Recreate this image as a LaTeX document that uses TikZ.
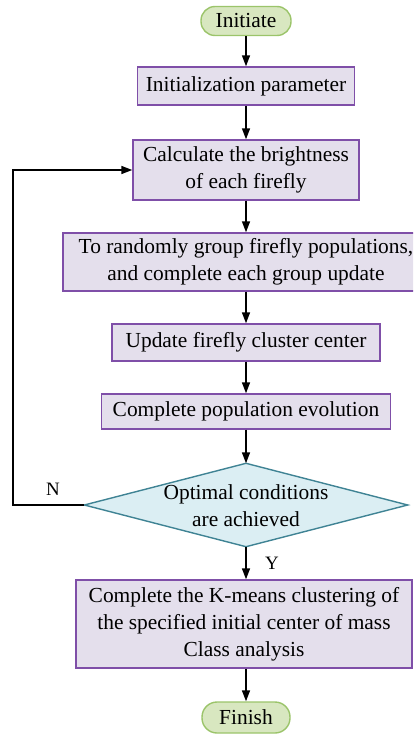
\documentclass[tikz,border=0pt]{standalone}
\usepackage{fontspec}
\setmainfont{Liberation Serif}
\usetikzlibrary{arrows.meta}

\definecolor{procfill}{HTML}{E4DFEC}
\definecolor{procline}{HTML}{7F4FA8}
\definecolor{termfill}{HTML}{D8E7C0}
\definecolor{termline}{HTML}{9BC46A}
\definecolor{decfill}{HTML}{DBEEF3}
\definecolor{decline}{HTML}{3F8394}

\tikzset{
  proc/.style={draw=procline, fill=procfill, line width=1.4bp, inner sep=0pt,
    align=center, font=\fontsize{21.5}{27}\selectfont},
  term/.style={draw=termline, fill=termfill, line width=1.4bp, inner sep=0pt,
    rounded corners=14bp, align=center, font=\fontsize{21.5}{27}\selectfont},
  decisiontext/.style={inner sep=0pt, align=center, font=\fontsize{21.5}{27}\selectfont},
  decisionshape/.style={draw=decline, fill=decfill, line width=1.4bp},
  flow/.style={line width=1.5bp, -{Triangle[length=11bp,width=8bp]}},
  tag/.style={font=\fontsize{19}{22}\selectfont, inner sep=0pt}
}

\begin{document}
\begin{tikzpicture}[x=1bp, y=-1bp]
  \useasboundingbox (0,0) rectangle (413,734);
  \clip (0,0) rectangle (413,734);

  \node[term, minimum width=90bp, minimum height=29bp] (start) at (246,21) {Initiate};
  \node[proc, minimum width=217bp, minimum height=38bp] (init) at (246,86) {Initialization parameter};
  \node[proc, minimum width=226bp, minimum height=60bp] (calc) at (246,170)
    {Calculate the brightness\\of each firefly};
  \node[proc, minimum width=366bp, minimum height=58bp] (group) at (246,262)
    {To randomly group firefly populations,\\and complete each group update};
  \node[proc, minimum width=268bp, minimum height=37bp] (update) at (246,342.5)
    {Update firefly cluster center};
  \node[proc, minimum width=289bp, minimum height=35bp] (evol) at (246,411.5)
    {Complete population evolution};

  % decision: a diamond drawn through the anchors of its text box
  \node[decisiontext, minimum width=323bp, minimum height=83bp] (cond) at (246,505) {};
  \draw[decisionshape] (cond.north) -- (cond.east) -- (cond.south) -- (cond.west) -- cycle;
  \node[decisiontext] (condtext) at (246,506) {Optimal conditions\\are achieved};

  \node[proc, minimum width=336bp, minimum height=88bp] (kmeans) at (244,624)
    {Complete the K-means clustering of\\the specified initial center of mass\\Class analysis};
  \node[term, minimum width=88bp, minimum height=31bp, rounded corners=15bp] (finish) at (246,717.5) {Finish};

  \coordinate (loopL) at (13,505);
  \coordinate (loopT) at (13,170);

  \draw[flow] (start) -- (init);
  \draw[flow] (init) -- (calc);
  \draw[flow] (calc) -- (group);
  \draw[flow] (group) -- (update);
  \draw[flow] (update) -- (evol);
  \draw[flow] (evol) -- (cond);
  \draw[flow] (cond.south) -- (cond.south |- kmeans.north);
  \draw[flow] (cond.south |- kmeans.south) -- (finish);
  \draw[flow] (cond.west) -- (loopL) -- (loopT) -- (calc.west);

  \node[tag] (no) at (53,489) {N};
  \node[tag] (yes) at (272,563) {Y};
\end{tikzpicture}
\end{document}
